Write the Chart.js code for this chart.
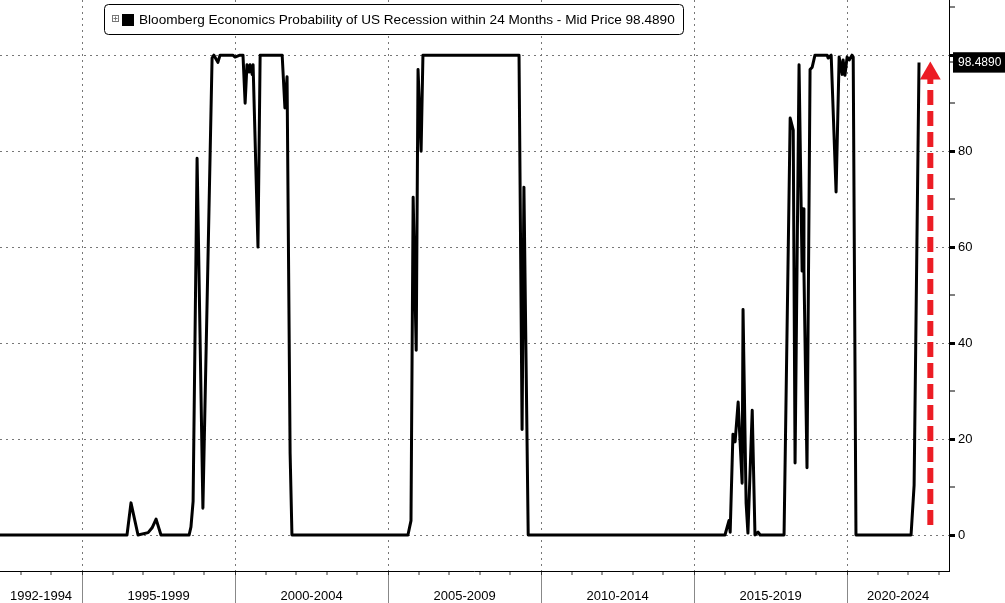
<!DOCTYPE html>
<html>
<head>
<meta charset="utf-8">
<script src="https://cdn.jsdelivr.net/npm/chart.js@4.4.1/dist/chart.umd.min.js"></script>
<style>
  html, body { margin: 0; padding: 0; background: #fff; }
  #wrap { width: 1005px; height: 603px; }
</style>
</head>
<body>
<div id="wrap"><canvas id="recession-chart"></canvas></div>
<script>
const recession_chart = document.getElementById("recession-chart").getContext("2d");

const series_label = "Bloomberg Economics Probability of US Recession within 24 Months - Mid Price 98.4890";

// decimal years and probability (%)
const years = [
  1992.3, 1996.47, 1996.6, 1996.83, 1997.16, 1997.29, 1997.42, 1997.58, 1998.5, 1998.56,
  1998.63, 1998.76, 1998.95, 1999.25, 1999.31, 1999.44, 1999.51, 1999.93, 2000.0, 2000.16,
  2000.26, 2000.33, 2000.39, 2000.46, 2000.49, 2000.56, 2000.59, 2000.75, 2000.82, 2001.54,
  2001.63, 2001.7, 2001.8, 2001.86, 2005.65, 2005.75, 2005.82, 2005.92, 2005.98, 2006.08,
  2006.14, 2009.28, 2009.38, 2009.44, 2009.58, 2016.01, 2016.14, 2016.18, 2016.27, 2016.34,
  2016.44, 2016.57, 2016.6, 2016.7, 2016.76, 2016.9, 2016.99, 2017.09, 2017.16, 2017.94,
  2018.14, 2018.24, 2018.3, 2018.43, 2018.53, 2018.56, 2018.59, 2018.69, 2018.79, 2018.86,
  2018.95, 2019.35, 2019.38, 2019.48, 2019.64, 2019.74, 2019.84, 2019.87, 2019.93, 2020.0,
  2020.07, 2020.16, 2020.2, 2020.29, 2022.09, 2022.19, 2022.35
];
const probability = [
  0, 0, 6.7, 0, 0.5, 1.5, 3.3, 0, 0, 1.7,
  7, 78.5, 5.6, 99.4, 100, 98.5, 100, 100, 99.6, 100,
  100, 90, 98, 96.5, 98, 96, 98, 60, 100, 100,
  89, 95.5, 17, 0, 0, 3, 70.4, 38.5, 97, 80,
  100, 100, 22, 72.5, 0, 0, 3, 0.6, 21, 19.4,
  27.7, 10.8, 47, 6.7, 0.4, 26, 0, 0.6, 0, 0,
  86.9, 84.4, 15, 98, 55, 68, 55, 14, 97, 97.5,
  100, 100, 99.4, 100, 71.5, 99.6, 96, 99, 95.8, 99.6,
  99, 100, 99.6, 0, 0, 10.4, 98.489
];
const last_value = 98.489;

// red dashed arrow (annotation)
const arrow_years = [2022.72, 2022.72];
const arrow_values = [2.1, 96.2];

// axes
const x_min = 1992.32;
const x_max = 2023.33;
const year_ticks = [1993, 1994, 1995, 1996, 1997, 1998, 1999, 2000, 2001, 2002, 2003, 2004, 2005, 2006, 2007,
  2008, 2009, 2010, 2011, 2012, 2013, 2014, 2015, 2016, 2017, 2018, 2019, 2020, 2021, 2022, 2023];
const period_bounds = [1995, 2000, 2005, 2010, 2015, 2020];
const period_centers = [1993.66, 1997.5, 2002.5, 2007.5, 2012.5, 2017.5, 2021.67];
const period_labels = ["1992-1994", "1995-1999", "2000-2004", "2005-2009", "2010-2014", "2015-2019", "2020-2024"];
const y_ticks = [0, 10, 20, 30, 40, 50, 60, 70, 80, 90, last_value, 100, 110];

Chart.defaults.font.family = '"Liberation Sans", Arial, sans-serif';
Chart.defaults.font.size = 13;
Chart.defaults.color = '#000';

const legend_box =
{
    id: 'legend_box',
    afterDraw: (chart) =>
    {
        const ctx = chart.ctx;
        ctx.save();
        ctx.fillStyle = '#fff';
        ctx.strokeStyle = '#000';
        ctx.lineWidth = 1;
        ctx.beginPath();
        ctx.roundRect(104.5, 4.5, 579, 30, 4);
        ctx.fill();
        ctx.stroke();
        // small expand icon
        ctx.strokeStyle = '#777';
        ctx.strokeRect(112.5, 15.5, 6, 6);
        ctx.beginPath();
        ctx.moveTo(113.5, 18.5); ctx.lineTo(117.5, 18.5);
        ctx.moveTo(115.5, 16.5); ctx.lineTo(115.5, 20.5);
        ctx.stroke();
        ctx.fillStyle = '#000';
        ctx.fillRect(122, 14, 12, 12);
        ctx.font = '13.6px "Liberation Sans", Arial, sans-serif';
        ctx.textBaseline = 'middle';
        ctx.fillText(chart.data.datasets[0].label, 139, 20);
        ctx.restore();
    }
};

const is_bound = (v) => period_bounds.includes(v);

// no automatic label padding, the plot touches the left and top edges
const no_padding = (s) =>
{
    s.paddingLeft = 0;
    s.paddingRight = 0;
    s.paddingTop = 0;
    s.paddingBottom = 0;
};

const data =
{
    datasets:
    [
        {
            label: series_label,
            data: years.map((x, i) => ({x: x, y: probability[i]})),
            borderColor: '#000',
            borderWidth: 3,
            borderJoinStyle: 'round',
            pointRadius: 0,
            tension: 0,
            fill: false,
        },
        {
            label: 'arrow',
            data: arrow_years.map((x, i) => ({x: x, y: arrow_values[i]})),
            borderColor: '#ec1c24',
            borderWidth: 6,
            borderDash: [15, 6],
            pointStyle: 'triangle',
            pointRadius: [0, 12],
            pointBackgroundColor: '#ec1c24',
            pointBorderWidth: 0,
            tension: 0,
            fill: false,
        }
    ]
};

const config =
{
    type: 'line',
    data: data,
    plugins: [legend_box],
    options:
    {
        responsive: true,
        maintainAspectRatio: false,
        animation: false,
        layout: { padding: 0, autoPadding: false },
        plugins:
        {
            legend: { display: false },
            tooltip: { enabled: false },
        },
        scales:
        {
            x:
            {
                type: 'linear',
                position: 'bottom',
                weight: 0,
                min: x_min,
                max: x_max,
                afterBuildTicks: (s) => { s.ticks = year_ticks.map(v => ({value: v})); },
                afterFit: (s) => { s.height = 4; no_padding(s); },
                grid:
                {
                    color: '#777',
                    lineWidth: (c) => (c.tick && c.tick.value % 5 === 0) ? 1 : 0,
                    tickLength: 4,
                    tickWidth: 1,
                    tickColor: '#333',
                },
                border: { display: true, color: '#000', width: 1, dash: [2, 4] },
                ticks: { display: false },
            },
            x2:
            {
                type: 'linear',
                position: 'bottom',
                weight: 1,
                min: x_min,
                max: x_max,
                afterBuildTicks: (s) =>
                {
                    s.ticks = period_bounds.concat(period_centers).sort((a, b) => a - b).map(v => ({value: v}));
                },
                afterFit: (s) => { s.height = 28; no_padding(s); },
                grid:
                {
                    drawOnChartArea: false,
                    tickLength: 28,
                    tickWidth: 1,
                    tickColor: (c) => (c.tick && is_bound(c.tick.value)) ? '#888' : 'rgba(0,0,0,0)',
                },
                border: { display: false },
                ticks:
                {
                    autoSkip: false,
                    maxRotation: 0,
                    padding: -14,
                    font: { size: 13 },
                    callback: (value) =>
                    {
                        const i = period_centers.indexOf(value);
                        return i >= 0 ? period_labels[i] : '';
                    },
                },
            },
            y:
            {
                position: 'right',
                min: -7.5,
                max: 111.5,
                afterBuildTicks: (s) => { s.ticks = y_ticks.map(v => ({value: v})); },
                afterFit: (s) => { s.width = 56; no_padding(s); },
                grid:
                {
                    color: '#777',
                    lineWidth: (c) => (c.tick && c.tick.value % 20 === 0 && c.tick.value <= 100) ? 1 : 0,
                    tickLength: 6,
                    tickWidth: (c) => (c.tick && c.tick.value % 20 === 0) ? 3 : 1,
                    tickColor: '#000',
                },
                border: { display: true, color: '#000', width: 1, dash: [2, 4] },
                ticks:
                {
                    padding: 3,
                    autoSkip: false,
                    color: (c) => (c.tick && c.tick.value === last_value) ? '#fff' : '#000',
                    font: (c) => ({ size: (c.tick && c.tick.value === last_value) ? 12 : 13 }),
                    showLabelBackdrop: (c) => !!(c.tick && c.tick.value === last_value),
                    backdropColor: '#000',
                    backdropPadding: { top: 3, bottom: 3, left: 5, right: 6 },
                    callback: (value) =>
                    {
                        if (value === last_value) return last_value.toFixed(4);
                        return (value % 20 === 0 && value <= 80) ? String(value) : '';
                    },
                },
            },
        },
    }
};

const myChart = new Chart(recession_chart, config);
</script>
</body>
</html>
